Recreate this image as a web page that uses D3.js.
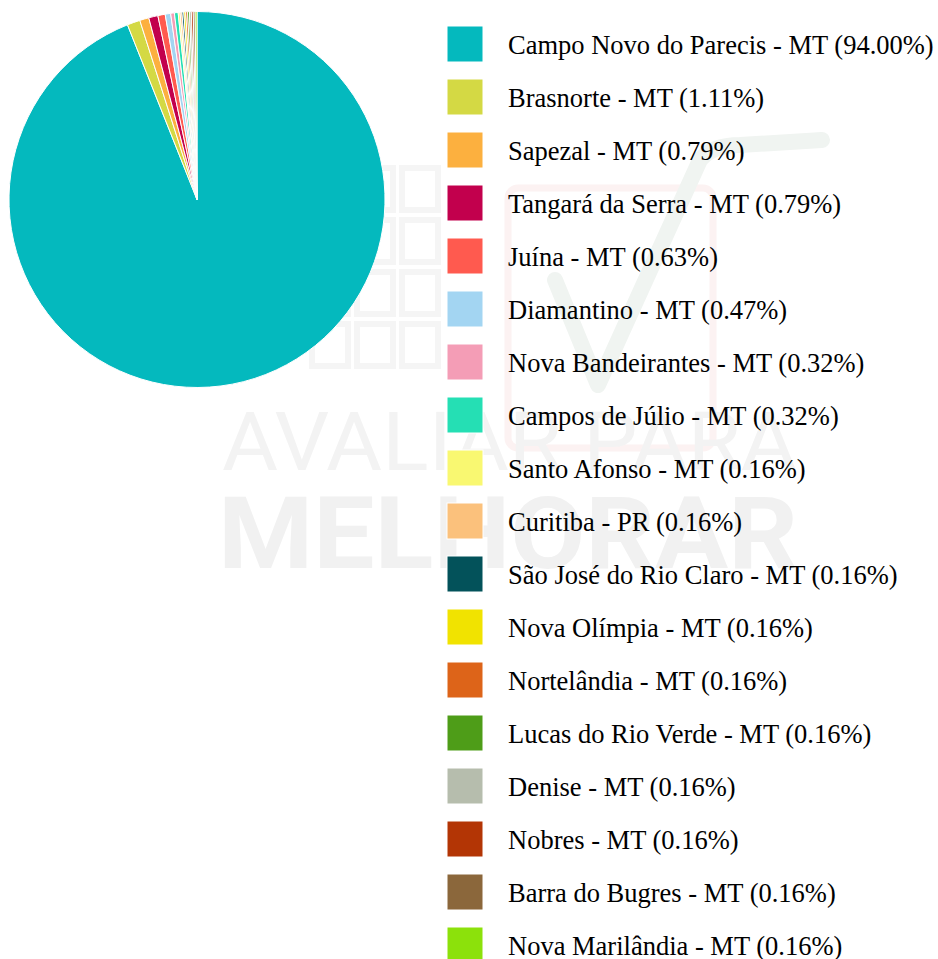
<!DOCTYPE html>
<html>
<head>
<meta charset="utf-8">
<script src="https://d3js.org/d3.v7.min.js"></script>
<style>
  body { margin: 0; background: #fff; }
  svg { display: block; }
  .legend text { font-family: 'Liberation Serif', 'Times New Roman', Times, serif; font-size: 26.5px; fill: #000; }
</style>
</head>
<body>
<div id="chart"></div>
<script>
// cities, share of total (%) and slice colours
const cities = [
  'Campo Novo do Parecis - MT', 'Brasnorte - MT', 'Sapezal - MT', 'Tangará da Serra - MT',
  'Juína - MT', 'Diamantino - MT', 'Nova Bandeirantes - MT', 'Campos de Júlio - MT',
  'Santo Afonso - MT', 'Curitiba - PR', 'São José do Rio Claro - MT', 'Nova Olímpia - MT',
  'Nortelândia - MT', 'Lucas do Rio Verde - MT', 'Denise - MT', 'Nobres - MT',
  'Barra do Bugres - MT', 'Nova Marilândia - MT'
];
const shares = [94.00, 1.11, 0.79, 0.79, 0.63, 0.47, 0.32, 0.32, 0.16, 0.16, 0.16, 0.16, 0.16, 0.16, 0.16, 0.16, 0.16, 0.16];
const colors = [
  '#04b9be', '#d4d944', '#fcb03f', '#c2004d', '#ff5a4f', '#a3d5f2', '#f49db6', '#25dfb4',
  '#f9f871', '#fbc17c', '#03525a', '#f1e300', '#dd6419', '#4e9d18', '#b6bdad', '#b33505',
  '#8b673b', '#8ce10b'
];

const data = cities.map((name, i) => ({ name: name, value: shares[i], color: colors[i] }));

const width = 938, height = 959;
const svg = d3.select('#chart').append('svg')
  .attr('width', width)
  .attr('height', height);

// faint background watermark ("avaliar para melhorar")
const wm = svg.append('g').attr('class', 'watermark');
d3.range(4).forEach(r => d3.range(3).forEach(c => {
  wm.append('rect')
    .attr('x', 312 + c * 45).attr('y', 168 + r * 52)
    .attr('width', 36).attr('height', 42)
    .attr('fill', 'none').attr('stroke', '#f5f5f5').attr('stroke-width', 6);
}));
wm.append('rect')
  .attr('x', 508).attr('y', 188).attr('width', 205).attr('height', 260).attr('rx', 10)
  .attr('fill', 'none').attr('stroke', '#fcf2f2').attr('stroke-width', 7);
wm.append('path')
  .attr('d', 'M555,280 L598,385 L700,160 Q712,145 740,145 L822,140')
  .attr('fill', 'none').attr('stroke', '#f0f4f1').attr('stroke-width', 16)
  .attr('stroke-linejoin', 'round').attr('stroke-linecap', 'round');
wm.append('text')
  .attr('x', 222).attr('y', 470)
  .attr('font-family', 'Roboto, sans-serif').attr('font-size', 82).attr('font-weight', 400)
  .attr('textLength', 575).attr('lengthAdjust', 'spacingAndGlyphs')
  .attr('fill', '#f3f3f3').text('AVALIAR PARA');
wm.append('text')
  .attr('x', 218).attr('y', 568)
  .attr('font-family', 'Roboto, sans-serif').attr('font-size', 100).attr('font-weight', 700)
  .attr('textLength', 580).attr('lengthAdjust', 'spacingAndGlyphs')
  .attr('fill', '#f1f1f1').text('MELHORAR');

// pie
const radius = 188;
const pie = d3.pie().sort(null).value(d => d.value);
const arc = d3.arc().innerRadius(0).outerRadius(radius);

svg.append('g')
  .attr('transform', 'translate(197,199.5)')
  .selectAll('path')
  .data(pie(data))
  .enter()
  .append('path')
  .attr('d', arc)
  .attr('fill', d => d.data.color)
  .attr('stroke', '#fff')
  .attr('stroke-width', 1);

// legend
const legend = svg.append('g')
  .attr('class', 'legend')
  .attr('transform', 'translate(447,26)')
  .selectAll('g')
  .data(data)
  .enter()
  .append('g')
  .attr('transform', (d, i) => `translate(0, ${i * 53})`);

legend.append('rect')
  .attr('width', 36)
  .attr('height', 36)
  .attr('fill', d => d.color)
  .attr('stroke', '#fff')
  .attr('stroke-width', 1);

legend.append('text')
  .attr('x', 61)
  .attr('y', 28)
  .text(d => `${d.name} (${d.value.toFixed(2)}%)`);
</script>
</body>
</html>
